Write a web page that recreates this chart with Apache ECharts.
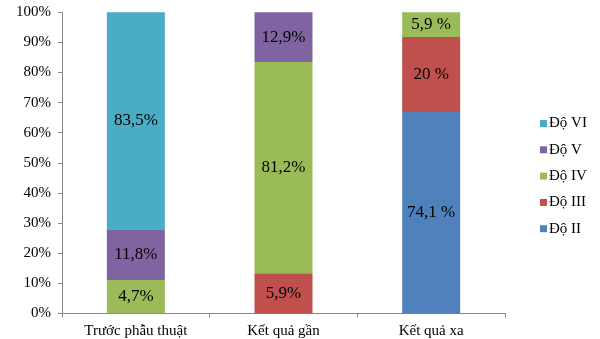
<!DOCTYPE html>
<html>
<head>
<meta charset="utf-8">
<script src="https://cdn.jsdelivr.net/npm/echarts@6/dist/echarts.min.js"></script>
<style>html,body{margin:0;padding:0;background:#fff}#c{width:600px;height:339px}</style>
</head>
<body>
<div id="c"></div>
<script>
var categories = ['Trước phẫu thuật', 'Kết quả gần', 'Kết quả xa'];
var seriesNames = ['Độ II', 'Độ III', 'Độ IV', 'Độ V', 'Độ VI'];
var seriesColors = ['#4F81BD', '#C0504D', '#9BBB59', '#8064A2', '#4BACC6'];
// segment heights as drawn in the reference (percent of bar)
var doII  = [0, 0, 66.9];
var doIII = [0, 13.3, 24.9];
var doIV  = [11.1, 70.2, 8.2];
var doV   = [16.8, 16.5, 0];
var doVI  = [72.1, 0, 0];
// printed labels
var labII  = ['', '', '74,1 %'];
var labIII = ['', '5,9%', '20 %'];
var labIV  = ['4,7%', '81,2%', '5,9 %'];
var labV   = ['11,8%', '12,9%', ''];
var labVI  = ['83,5%', '', ''];
var yTicks = ['0%','10%','20%','30%','40%','50%','60%','70%','80%','90%','100%'];

var values = [doII, doIII, doIV, doV, doVI];
var labels = [labII, labIII, labIV, labV, labVI];
var FONT = '"Liberation Serif", "Times New Roman", serif';

var series = seriesNames.map(function (name, i) {
  return {
    name: name,
    type: 'bar',
    stack: 'total',
    barWidth: 58,
    itemStyle: { color: seriesColors[i] },
    label: {
      show: true,
      position: 'inside',
      color: '#000',
      fontFamily: FONT,
      fontSize: 17,
      formatter: function (p) { return labels[i][p.dataIndex]; }
    },
    data: values[i].map(function (v) { return v === 0 ? null : v; })
  };
});

var chart = echarts.init(document.getElementById('c'), null, { renderer: 'canvas' });
chart.setOption({
  animation: false,
  grid: { left: 62, right: 95, top: 12.3, bottom: 25.7, containLabel: false },
  legend: {
    orient: 'vertical',
    top: 111,
    left: 535,
    itemWidth: 7,
    itemHeight: 7,
    itemGap: 11.3,
    icon: 'rect',
    data: seriesNames.slice().reverse(),
    textStyle: { fontFamily: FONT, fontSize: 15, color: '#000', padding: [0, 0, 0, -3] }
  },
  xAxis: {
    type: 'category',
    data: categories,
    axisLine: { lineStyle: { color: '#868686', width: 1 } },
    axisTick: { show: true, alignWithLabel: false, length: 4, lineStyle: { color: '#868686' } },
    axisLabel: { color: '#000', fontFamily: FONT, fontSize: 15, margin: 10 }
  },
  yAxis: {
    type: 'value',
    min: 0,
    max: 100,
    interval: 10,
    splitLine: { show: false },
    axisLine: { show: true, lineStyle: { color: '#868686', width: 1 } },
    axisTick: { show: true, length: 4, lineStyle: { color: '#868686' } },
    axisLabel: {
      color: '#000', fontFamily: FONT, fontSize: 15, margin: 11,
      formatter: function (v) { return yTicks[Math.round(v / 10)]; }
    }
  },
  series: series
});
</script>
</body>
</html>
